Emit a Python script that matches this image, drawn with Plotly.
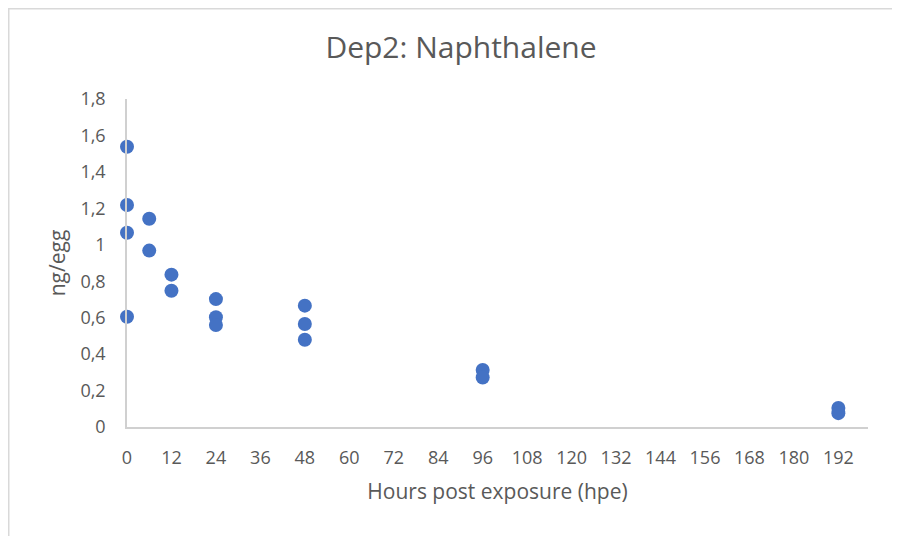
import plotly.graph_objects as go

hours = [0, 0, 0, 0, 6, 6, 12, 12, 24, 24, 24, 48, 48, 48, 96, 96, 192, 192]
ng_per_egg = [1.538, 1.218, 1.066, 0.605, 1.143, 0.968, 0.836, 0.748,
              0.702, 0.602, 0.560, 0.666, 0.565, 0.479, 0.313, 0.272, 0.104, 0.076]
x_ticks = list(range(0, 193, 12))
y_ticks = [0, 0.2, 0.4, 0.6, 0.8, 1.0, 1.2, 1.4, 1.6, 1.8]
y_tick_labels = ["0", "0,2", "0,4", "0,6", "0,8", "1", "1,2", "1,4", "1,6", "1,8"]

# page body has an 8px margin, so the figure is drawn 8px right and down
OFF = 8
W, H = 900 - OFF, 536 - OFF
L = 127 - OFF
T = 99 - OFF
R = W - (868 - OFF)
B = H - (427 - OFF)
pw, ph = W - L - R, H - T - B

txt = "#595959"
font = "Open Sans"

fig = go.Figure(go.Scatter(
    x=hours, y=ng_per_egg, mode="markers",
    marker=dict(color="#4472C4", size=14, line=dict(width=0)),
    cliponaxis=False,
))

fig.update_layout(
    width=W, height=H,
    margin=dict(l=L, r=R, t=T, b=B),
    paper_bgcolor="white", plot_bgcolor="white",
    showlegend=False,
    font=dict(family=font, color=txt, size=16),
    title=dict(text="Dep2: Naphthalene", x=(461 - OFF) / W, xanchor="center",
               y=1 - (47 - OFF) / H, yanchor="middle", yref="container",
               font=dict(size=30, color=txt, family=font)),
    xaxis=dict(range=[0, 200], tickvals=x_ticks, ticktext=[str(v) for v in x_ticks],
               showgrid=False, zeroline=False, showline=True, linecolor="#D0D0D0",
               linewidth=1.5, ticks="outside", ticklen=14, tickcolor="rgba(0,0,0,0)",
               tickfont=dict(size=18, color=txt),
               title=dict(text="Hours post exposure (hpe)", font=dict(size=21, color=txt), standoff=16)),
    yaxis=dict(range=[0, 1.8], tickvals=y_ticks, ticktext=y_tick_labels,
               showgrid=False, zeroline=False, showline=True, linecolor="#D0D0D0",
               linewidth=1.5, ticks="outside", ticklen=16, tickcolor="rgba(0,0,0,0)",
               tickfont=dict(size=18, color=txt),
               title=dict(text="ng/egg", font=dict(size=21, color=txt), standoff=9)),
    shapes=[dict(type="rect", xref="paper", yref="paper",
                 x0=-(L - 0.75) / pw, x1=(W + 10 - L) / pw,
                 y0=-(B + 10) / ph, y1=(ph + T - 0.75) / ph,
                 line=dict(color="#D9D9D9", width=1.5), fillcolor="rgba(0,0,0,0)", layer="below")],
)

fig.write_html("out.html")
